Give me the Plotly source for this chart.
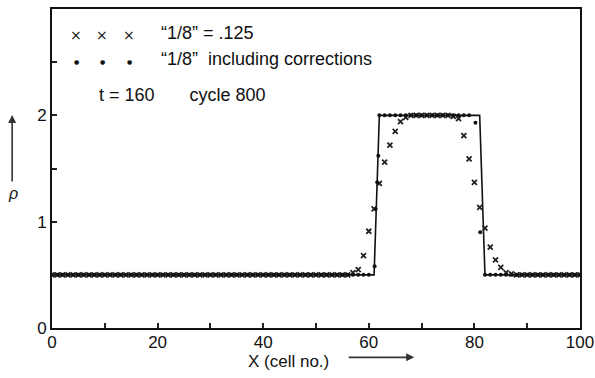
import plotly.graph_objects as go

# Solid line (exact solution)
line_x = [0, 61, 62, 81, 82, 100]
line_y = [0.5, 0.5, 2.0, 2.0, 0.5, 0.5]

# "1/8" = .125 (crosses), one per cell
cross_x = list(range(0, 101))
cross_y = ([0.5] * 57 +
           [0.52, 0.55, 0.68, 0.91, 1.12, 1.36, 1.56, 1.72, 1.85, 1.94, 1.98] +
           [2.0] * 8 +
           [1.99, 1.97, 1.81, 1.59, 1.37, 1.135, 0.94, 0.76, 0.64, 0.57, 0.52, 0.51] +
           [0.5] * 13)

# "1/8" including corrections (dots)
dot_x = (list(range(0, 61)) + [61.1, 61.3, 61.6, 61.8] + list(range(62, 80)) +
         [80.2, 81.1] + list(range(82, 101)))
dot_y = ([0.5] * 61 + [0.58, 1.12, 1.37, 1.62] + [2.0] * 18 +
         [1.93, 0.90] + [0.5] * 19)

x_ticks = [0, 20, 40, 60, 80, 100]
y_ticks = [0, 1, 2]

FONT = "Liberation Sans, Arial, sans-serif"

fig = go.Figure()
fig.add_trace(go.Scatter(x=line_x, y=line_y, mode="lines",
                         line=dict(color="#111111", width=1.6),
                         showlegend=False, hoverinfo="skip"))
fig.add_trace(go.Scatter(x=cross_x, y=cross_y, mode="markers",
                         marker=dict(symbol="x-thin", size=5, color="#222222",
                                     line=dict(width=1.8, color="#222222")),
                         showlegend=False))
fig.add_trace(go.Scatter(x=dot_x, y=dot_y, mode="markers",
                         marker=dict(symbol="circle", size=4, color="#111111"),
                         showlegend=False))

ann = []
def txt(x, y, text, size=18, xa="left", family=None):
    f = dict(size=size, color="#111")
    if family:
        f["family"] = family
    ann.append(dict(x=x, y=y, xref="paper", yref="paper", xanchor=xa, yanchor="middle",
                    text=text, showarrow=False, font=f))

# legend-like text
txt(0.203, 0.925, "\u201c1/8\u201d = .125")
txt(0.203, 0.843, "\u201c1/8\u201d\u00a0 including corrections")
txt(0.086, 0.730, "t = 160\u00a0\u00a0\u00a0\u00a0\u00a0\u00a0 cycle 800")
for px in [0.0457, 0.0953, 0.146]:
    txt(px, 0.918, "\u00d7", size=14, xa="center", family="DejaVu Sans")
    txt(px, 0.835, "\u25cf", size=6, xa="center", family="DejaVu Sans")
# axis titles
txt(0.448, -0.106, "X (cell no.)", size=17, xa="center")
ann.append(dict(x=0.686, y=-0.092, xref="paper", yref="paper", text="", showarrow=True,
                ax=-67, ay=0, arrowhead=2, arrowsize=1, arrowwidth=1.6, arrowcolor="#333"))
txt(-0.0745, 0.423, "<i>\u03c1</i>", size=16, xa="center")
ann.append(dict(x=-0.0755, y=0.668, xref="paper", yref="paper", text="", showarrow=True,
                ax=0, ay=68, arrowhead=2, arrowsize=1, arrowwidth=1.6, arrowcolor="#333"))

fig.update_layout(
    width=595, height=378,
    margin=dict(l=52, r=15, t=9, b=50, autoexpand=False),
    paper_bgcolor="white", plot_bgcolor="white",
    font=dict(family=FONT, size=18, color="#111"),
    annotations=ann,
    xaxis=dict(range=[0, 100], tickvals=x_ticks, ticktext=[str(v) for v in x_ticks],
               ticks="inside", ticklen=5, tickwidth=1.5, tickcolor="#222",
               ticklabeloverflow="allow", automargin=False, ticklabelstandoff=-2,
               tickfont=dict(size=17),
               minor=dict(dtick=10, ticks="inside", ticklen=5, tickwidth=1.5, tickcolor="#222"),
               showline=True, linewidth=2, linecolor="#111", mirror=True,
               showgrid=False, zeroline=False),
    yaxis=dict(range=[0, 3], tickvals=y_ticks, ticktext=[str(v) for v in y_ticks],
               ticks="inside", ticklen=5, tickwidth=1.5, tickcolor="#222",
               automargin=False, tickfont=dict(size=17),
               minor=dict(dtick=0.5, ticks="inside", ticklen=5, tickwidth=1.5, tickcolor="#222"),
               showline=True, linewidth=2, linecolor="#111", mirror=True,
               showgrid=False, zeroline=False),
)

fig.write_html("out.html")
